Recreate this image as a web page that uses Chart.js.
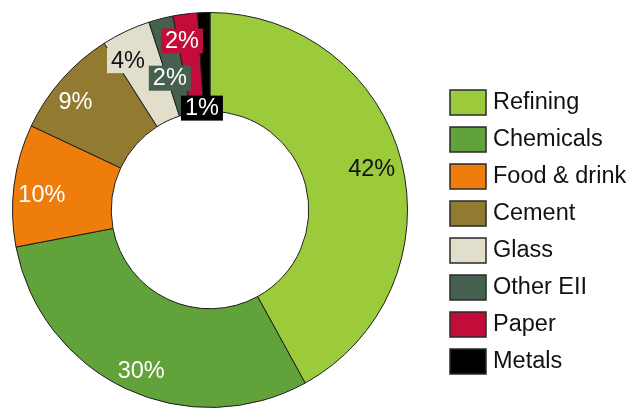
<!DOCTYPE html>
<html lang="en">

<head>
    <meta charset="UTF-8" />
    <title>Energy use by sector</title>
    <script src="https://cdn.jsdelivr.net/npm/chart.js"></script>
    <style>
        html, body { margin: 0; padding: 0; background: #fff; }
        #wrap { width: 636px; height: 408px; position: relative; }
    </style>
</head>

<body>
    <div id="wrap"><canvas id="sectorChart"></canvas></div>

    <script>
        const sectors = ["Refining", "Chemicals", "Food & drink", "Cement", "Glass", "Other EII", "Paper", "Metals"];
        const shares = [42, 30, 10, 9, 4, 2, 2, 1];
        const sectorColors = ["#9bcb3b", "#62a23a", "#ef7d0b", "#927a30", "#e1decb", "#46604f", "#c20d3b", "#000000"];

        const FONT = "'Liberation Sans', Arial, sans-serif";

        // where each % label sits inside its slice (fraction of ring depth, angle nudge in degrees)
        const labelDepth = [0.69, 0.77, 0.71, 0.75, 0.73, 0.40, 0.74, 0.04];
        const labelTurn = [0, -2, -2, -2.5, -3.5, -2.5, -2.2, -2.7];

        function isLight(hex) {
            const r = parseInt(hex.slice(1, 3), 16), g = parseInt(hex.slice(3, 5), 16), b = parseInt(hex.slice(5, 7), 16);
            return (0.299 * r + 0.587 * g + 0.114 * b) > 150;
        }

        const sliceLabels = {
            id: "sliceLabels",
            afterDatasetsDraw(chart) {
                const { ctx } = chart;
                const arcs = chart.getDatasetMeta(0).data;
                ctx.save();
                ctx.font = `23.5px ${FONT}`;
                ctx.textAlign = "center";
                ctx.textBaseline = "middle";
                arcs.forEach((arc, i) => {
                    const p = arc.getProps(["x", "y", "startAngle", "endAngle", "innerRadius", "outerRadius"], true);
                    const a = (p.startAngle + p.endAngle) / 2 + labelTurn[i] * Math.PI / 180;
                    const r = p.innerRadius + labelDepth[i] * (p.outerRadius - p.innerRadius);
                    const x = p.x + Math.cos(a) * r;
                    const y = p.y + Math.sin(a) * r;
                    const text = shares[i] + "%";
                    // thin slices get a tag in their own colour so the text spills over neighbours cleanly
                    if (shares[i] < 5) {
                        const w = ctx.measureText(text).width + 8;
                        ctx.fillStyle = sectorColors[i];
                        ctx.fillRect(x - w / 2, y - 12, w, 25);
                    }
                    ctx.fillStyle = isLight(sectorColors[i]) ? "#111" : "#fff";
                    ctx.fillText(text, x, y + 1);
                });
                ctx.restore();
            }
        };

        const sideLegend = {
            id: "sideLegend",
            afterDraw(chart) {
                const { ctx } = chart;
                ctx.save();
                ctx.font = `23.5px ${FONT}`;
                ctx.textBaseline = "middle";
                sectors.forEach((name, i) => {
                    const top = 90 + i * 37;
                    ctx.fillStyle = sectorColors[i];
                    ctx.fillRect(450, top, 36, 25);
                    ctx.strokeStyle = "#2a2a2a";
                    ctx.lineWidth = 1.5;
                    ctx.strokeRect(450, top, 36, 25);
                    ctx.fillStyle = "#111";
                    ctx.fillText(name, 493, top + 13);
                });
                ctx.restore();
            }
        };

        new Chart(document.getElementById("sectorChart"), {
            type: "doughnut",
            data: {
                labels: sectors,
                datasets: [{
                    data: shares,
                    backgroundColor: sectorColors,
                    borderColor: "#1e1e1e",
                    borderWidth: 1
                }]
            },
            options: {
                responsive: true,
                maintainAspectRatio: false,
                animation: false,
                cutout: "50%",
                layout: { padding: { left: 10, right: 226, top: 12, bottom: 0 } },
                plugins: {
                    legend: { display: false },
                    tooltip: { enabled: false }
                }
            },
            plugins: [sliceLabels, sideLegend]
        });
    </script>
</body>

</html>
